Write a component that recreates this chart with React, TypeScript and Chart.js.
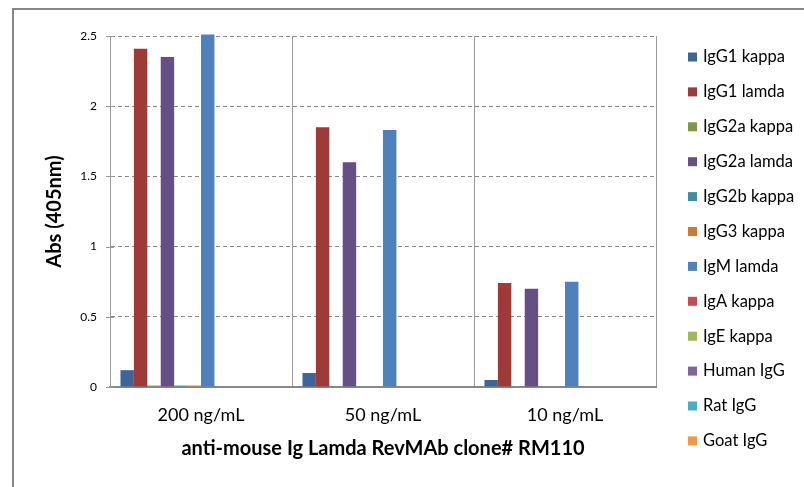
import React, { useEffect, useRef } from "react";
import { Chart, registerables } from "chart.js";

Chart.register(...registerables);

const categories = ["200 ng/mL", "50 ng/mL", "10 ng/mL"];
const seriesNames = [
  "IgG1 kappa", "IgG1 lamda", "IgG2a kappa", "IgG2a lamda", "IgG2b kappa", "IgG3 kappa",
  "IgM lamda", "IgA kappa", "IgE kappa", "Human IgG", "Rat IgG", "Goat IgG",
];
const igg1Kappa = [0.12, 0.10, 0.05];
const igg1Lamda = [2.41, 1.85, 0.74];
const igg2aKappa = [0.01, 0, 0];
const igg2aLamda = [2.35, 1.60, 0.70];
const igg2bKappa = [0.01, 0, 0];
const igg3Kappa = [0.01, 0, 0];
const igmLamda = [2.51, 1.83, 0.75];
const igaKappa = [0, 0, 0];
const igeKappa = [0, 0, 0];
const humanIgG = [0, 0, 0];
const ratIgG = [0, 0, 0];
const goatIgG = [0, 0, 0];
const seriesValues = [
  igg1Kappa, igg1Lamda, igg2aKappa, igg2aLamda, igg2bKappa, igg3Kappa,
  igmLamda, igaKappa, igeKappa, humanIgG, ratIgG, goatIgG,
];
const colors = [
  "#3E659A", "#9E3B38", "#7E9A48", "#664F85", "#3A8FA6", "#CF7A30",
  "#4F81BD", "#C0504D", "#9BBB59", "#8064A2", "#4BACC6", "#F79646",
];
const yTicks = [0, 0.5, 1, 1.5, 2, 2.5];
const yTitle = "Abs (405nm)";
const xTitle = "anti-mouse Ig Lamda RevMAb clone# RM110";

const FONT = "Lato, 'Open Sans', sans-serif";

const framePlugin = {
  id: "frame",
  beforeDraw(chart: any) {
    const ctx = chart.ctx;
    ctx.save();
    ctx.fillStyle = "#fff";
    ctx.fillRect(0, 0, chart.width, chart.height);
    ctx.strokeStyle = "#878787";
    ctx.lineWidth = 2;
    ctx.beginPath();
    ctx.moveTo(13, chart.height + 5);
    ctx.lineTo(13, 9);
    ctx.lineTo(chart.width + 5, 9);
    ctx.stroke();
    ctx.restore();
  },
  afterDraw(chart: any) {
    const ctx = chart.ctx;
    const area = chart.chartArea;
    ctx.save();
    ctx.font = `16.5px ${FONT}`;
    ctx.textBaseline = "middle";
    chart.data.datasets.forEach((ds: any, i: number) => {
      const y = area.top + 21 + i * 34.9;
      ctx.fillStyle = ds.backgroundColor;
      ctx.fillRect(area.right + 32, y - 4.5, 9, 9);
      ctx.fillStyle = "#000";
      ctx.fillText(ds.label, area.right + 47, y);
    });
    const ys = chart.scales.y;
    ctx.strokeStyle = "#9a9a9a";
    ctx.lineWidth = 1;
    yTicks.forEach((v) => {
      const py = Math.round(ys.getPixelForValue(v)) + 0.5;
      ctx.beginPath();
      ctx.moveTo(area.left - 4, py);
      ctx.lineTo(area.left + 4, py);
      ctx.stroke();
    });
    ctx.restore();
  },
};

export default function App() {
  const ref = useRef<HTMLCanvasElement>(null);
  useEffect(() => {
    if (!ref.current) return;
    const chart = new Chart(ref.current, {
      type: "bar",
      data: {
        labels: categories,
        datasets: seriesNames.map((name, i) => ({
          label: name,
          data: seriesValues[i],
          backgroundColor: colors[i],
          borderWidth: 0,
          categoryPercentage: 0.885,
          barPercentage: 1,
          clip: false as any,
        })),
      },
      options: {
        responsive: false,
        animation: false,
        layout: { padding: { left: 0, right: 148, top: 36, bottom: 0 } },
        plugins: { legend: { display: false }, tooltip: { enabled: false } },
        scales: {
          x: {
            grid: { offset: true, color: "#9a9a9a", lineWidth: 1, drawTicks: false },
            border: { color: "#878787", width: 2 },
            ticks: { color: "#000", font: { family: FONT, size: 18 }, padding: 17 },
            title: {
              display: true,
              text: xTitle,
              color: "#000",
              font: { family: FONT, size: 20, weight: "bold" },
              padding: { top: 0, bottom: 26 },
            },
            afterFit: (s: any) => { s.height = 100; },
          },
          y: {
            min: 0,
            max: 2.5,
            afterBuildTicks: (s: any) => { s.ticks = yTicks.map((v) => ({ value: v })); },
            grid: {
              color: (c: any) => (c.tick && c.tick.value === 0 ? "rgba(0,0,0,0)" : "#8a8a8a"),
              drawTicks: false,
              tickLength: 4,
            },
            border: { color: "#9a9a9a", width: 1, dash: [4, 3] },
            ticks: {
              color: "#000",
              font: { family: FONT, size: 12 },
              padding: 13,
              callback: (v: any) => String(v),
            },
            title: {
              display: true,
              text: yTitle,
              color: "#000",
              font: { family: FONT, size: 20, weight: "bold" },
              padding: { top: 43, bottom: 0 },
            },
            afterFit: (s: any) => { s.width = 110; },
          },
        },
      },
      plugins: [framePlugin],
    } as any);
    return () => chart.destroy();
  }, []);
  return (
    <div style={{ position: "fixed", left: 0, top: 0, width: 804, height: 487, background: "#fff" }}>
      <canvas ref={ref} width={804} height={487} style={{ display: "block" }} />
    </div>
  );
}
